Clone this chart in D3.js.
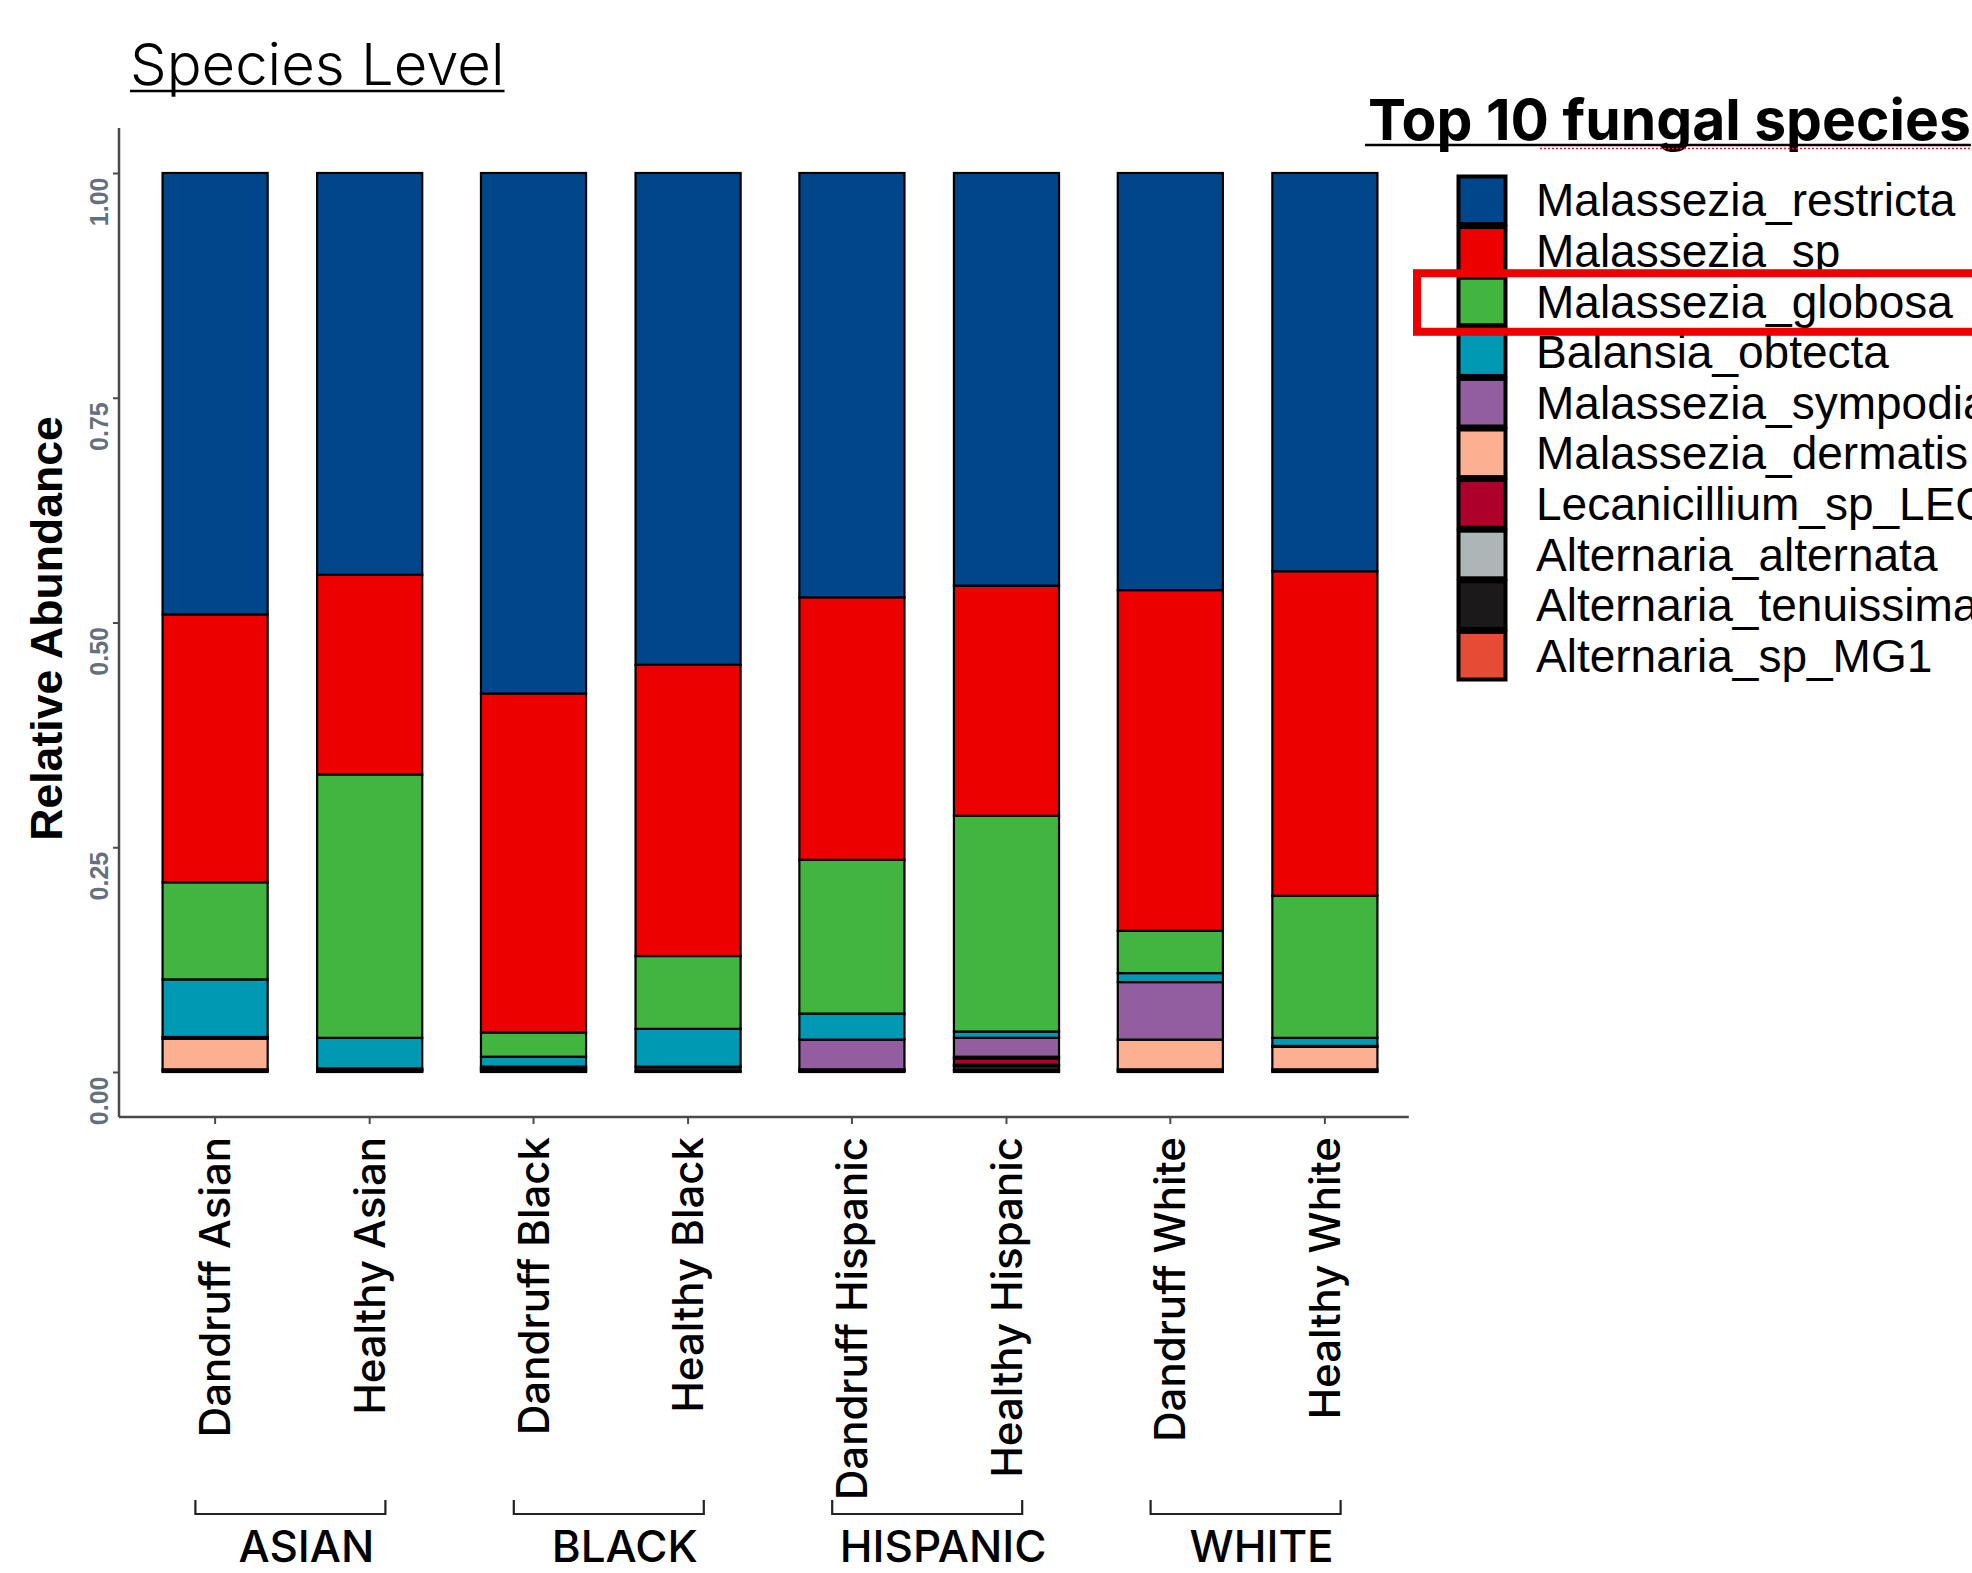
<!DOCTYPE html>
<html>
<head>
<meta charset="utf-8">
<script src="https://cdn.jsdelivr.net/npm/d3@7"></script>
<style>
  html, body { margin: 0; padding: 0; background: #ffffff; }
  svg { display: block; }
</style>
</head>
<body>
<svg id="chart" width="1972" height="1573"></svg>
<script>
// ---------------- data ----------------
const groups = ["ASIAN", "BLACK", "HISPANIC", "WHITE"];
const conditions = ["Dandruff", "Healthy"];
const samples = ["Dandruff Asian", "Healthy Asian", "Dandruff Black", "Healthy Black",
                 "Dandruff Hispanic", "Healthy Hispanic", "Dandruff White", "Healthy White"];

// legend order (top of the stack first)
const species = ["Malassezia_restricta", "Malassezia_sp", "Malassezia_globosa", "Balansia_obtecta",
                 "Malassezia_sympodialis", "Malassezia_dermatis", "Lecanicillium_sp_LEC01",
                 "Alternaria_alternata", "Alternaria_tenuissima", "Alternaria_sp_MG1"];
const speciesColors = ["#00468B", "#ED0000", "#42B540", "#0099B4", "#925E9F", "#FDAF91",
                       "#AD002A", "#ADB6B6", "#1B1919", "#E64B35"];

// relative abundance per sample (same order as samples)
const malasseziaRestricta   = [0.491, 0.447, 0.579, 0.547, 0.472, 0.459, 0.464, 0.443];
const malasseziaSp          = [0.298, 0.222, 0.377, 0.324, 0.292, 0.256, 0.379, 0.361];
const malasseziaGlobosa     = [0.108, 0.293, 0.027, 0.081, 0.171, 0.240, 0.047, 0.158];
const balansiaObtecta       = [0.064, 0.034, 0.011, 0.042, 0.029, 0.007, 0.010, 0.009];
const malasseziaSympodialis = [0.002, 0.001, 0.002, 0.000, 0.033, 0.021, 0.064, 0.001];
const malasseziaDermatis    = [0.034, 0.001, 0.001, 0.000, 0.001, 0.002, 0.033, 0.025];
const lecanicilliumSp       = [0.000, 0.000, 0.000, 0.000, 0.000, 0.007, 0.000, 0.000];
const alternariaAlternata   = [0.000, 0.000, 0.000, 0.000, 0.000, 0.001, 0.000, 0.000];
const alternariaTenuissima  = [0.002, 0.001, 0.002, 0.005, 0.001, 0.005, 0.002, 0.002];
const alternariaSpMG1       = [0.001, 0.001, 0.001, 0.001, 0.001, 0.002, 0.001, 0.001];

const seriesValues = [malasseziaRestricta, malasseziaSp, malasseziaGlobosa, balansiaObtecta,
                      malasseziaSympodialis, malasseziaDermatis, lecanicilliumSp,
                      alternariaAlternata, alternariaTenuissima, alternariaSpMG1];

const yTicks = [0, 0.25, 0.5, 0.75, 1];

const titleText = "Species Level";
const yTitle = "Relative Abundance";
const legendTitle = "Top 10 fungal species";
const highlighted = "Malassezia_globosa";

// ---------------- build table ----------------
const table = samples.map((s, i) => {
  const row = { sample: s, group: groups[Math.floor(i / 2)], condition: conditions[i % 2] };
  species.forEach((sp, k) => { row[sp] = seriesValues[k][i]; });
  return row;
});

// ---------------- layout ----------------
const svg = d3.select("#chart");
const color = d3.scaleOrdinal().domain(species).range(speciesColors);

const y = d3.scaleLinear().domain([0, 1]).range([1072, 173]);
const yAxisX = 119;

const xGroup = d3.scaleBand().domain(groups).range([133.2, 1406.8]).paddingInner(0).paddingOuter(0);
const xInner = d3.scaleBand().domain(conditions).range([0, xGroup.bandwidth()])
  .paddingInner(0.32).paddingOuter(0.19);
const barX = d => xGroup(d.group) + xInner(d.condition);
const barCenter = d => barX(d) + xInner.bandwidth() / 2;

// stack: bottom first
const stackKeys = species.slice().reverse();
const stacked = d3.stack().keys(stackKeys)(table);

const plot = svg.append("g");

plot.selectAll("g.layer")
  .data(stacked)
  .join("g")
  .attr("class", "layer")
  .attr("fill", d => color(d.key))
  .selectAll("rect")
  .data(d => d)
  .join("rect")
  .attr("x", d => barX(d.data))
  .attr("width", xInner.bandwidth())
  .attr("y", d => y(d[1]))
  .attr("height", d => Math.max(0, y(d[0]) - y(d[1])))
  .attr("stroke", "#000")
  .attr("stroke-width", 2.2);

// ---------------- axes ----------------
const axisColor = "#4a4a4a";
// y axis line (with 5% expansion like ggplot)
svg.append("line")
  .attr("x1", yAxisX).attr("x2", yAxisX)
  .attr("y1", y(1.05)).attr("y2", y(-0.05))
  .attr("stroke", axisColor).attr("stroke-width", 2.5);
// x axis line
svg.append("line")
  .attr("x1", yAxisX).attr("x2", xGroup.range()[1] + 2)
  .attr("y1", y(-0.05)).attr("y2", y(-0.05))
  .attr("stroke", axisColor).attr("stroke-width", 2.5);

const yAxis = d3.axisLeft(y).tickValues(yTicks).tickFormat(d3.format(".2f")).tickSize(6);
const yAxisG = svg.append("g").attr("transform", `translate(${yAxisX},0)`).call(yAxis);
yAxisG.select(".domain").remove();
yAxisG.selectAll(".tick line").attr("stroke", axisColor).attr("stroke-width", 2);
yAxisG.selectAll(".tick text")
  .attr("transform", "rotate(-90)")
  .attr("x", -4).attr("y", -11).attr("dy", 0)
  .attr("text-anchor", "end")
  .attr("fill", "#65707f")
  .style("font-family", "'Liberation Sans', Arial, sans-serif")
  .style("font-weight", "bold")
  .style("font-size", "25px");

// x ticks
svg.append("g").selectAll("line")
  .data(table)
  .join("line")
  .attr("x1", d => barCenter(d)).attr("x2", d => barCenter(d))
  .attr("y1", y(-0.05)).attr("y2", y(-0.05) + 7)
  .attr("stroke", axisColor).attr("stroke-width", 2);

// x labels
svg.append("g").selectAll("text")
  .data(table)
  .join("text")
  .attr("transform", d => `translate(${barCenter(d)},${y(-0.05) + 20}) rotate(-90)`)
  .attr("text-anchor", "end")
  .attr("dy", "0.36em")
  .style("font-family", "Inter, 'Open Sans', sans-serif")
  .style("font-weight", 500)
  .style("font-size", "42px")
  .attr("fill", "#000")
  .text(d => d.sample);

// group brackets and labels
const groupCenter = g => xGroup(g) + xGroup.bandwidth() / 2;
const brackets = svg.append("g");
brackets.selectAll("path")
  .data(groups)
  .join("path")
  .attr("d", g => {
    const c = groupCenter(g) - 2;
    return `M${c - 95},1500 V1514 H${c + 95} V1500`;
  })
  .attr("fill", "none").attr("stroke", "#222").attr("stroke-width", 2.2);
brackets.selectAll("text")
  .data(groups)
  .join("text")
  .attr("x", g => groupCenter(g) + 14)
  .attr("y", 1562)
  .attr("text-anchor", "middle")
  .style("font-family", "Inter, 'Open Sans', sans-serif")
  .style("font-weight", 500)
  .style("font-size", "44px")
  .attr("fill", "#000")
  .text(g => g);

// y title
svg.append("text")
  .attr("transform", `translate(62,${(y(1.05) + y(-0.05)) / 2 + 6}) rotate(-90)`)
  .attr("text-anchor", "middle")
  .style("font-family", "'Liberation Sans', Arial, sans-serif")
  .style("font-weight", "bold")
  .style("font-size", "44.6px")
  .attr("fill", "#000")
  .text(yTitle);

// title
const title = svg.append("text")
  .attr("x", 130).attr("y", 85)
  .style("font-family", "Inter, 'Open Sans', sans-serif")
  .style("font-weight", 300)
  .style("font-size", "58px")
  .attr("fill", "#000")
  .text(titleText);
const tw = title.node().getComputedTextLength();
svg.append("line")
  .attr("x1", 130).attr("x2", 130 + tw)
  .attr("y1", 91).attr("y2", 91)
  .attr("stroke", "#000").attr("stroke-width", 2.5);

// ---------------- legend ----------------
const legend = svg.append("g");
const lt = legend.append("text")
  .attr("x", 1368).attr("y", 140)
  .style("font-family", "Inter, 'Open Sans', sans-serif")
  .style("font-weight", 700)
  .style("font-size", "57px")
  .attr("fill", "#000")
  .text(legendTitle);
const ltw = lt.node().getComputedTextLength();
legend.append("line")
  .attr("x1", 1365).attr("x2", 1368 + ltw)
  .attr("y1", 145).attr("y2", 145)
  .attr("stroke", "#000").attr("stroke-width", 2.5);
// spell-check squiggle under "fungal species"
legend.append("line")
  .attr("x1", 1540).attr("x2", 1368 + ltw)
  .attr("y1", 148.5).attr("y2", 148.5)
  .attr("stroke", "#e02020").attr("stroke-width", 1.6)
  .attr("stroke-dasharray", "2,2");

const keyY = d3.scaleBand().domain(species).range([175, 681]);
legend.selectAll("rect.key")
  .data(species)
  .join("rect")
  .attr("class", "key")
  .attr("x", 1458.5).attr("width", 47)
  .attr("y", d => keyY(d) + 1.5).attr("height", keyY.bandwidth() - 3)
  .attr("fill", d => color(d))
  .attr("stroke", "#000").attr("stroke-width", 4);
legend.selectAll("text.lab")
  .data(species)
  .join("text")
  .attr("class", "lab")
  .attr("x", 1536)
  .attr("y", d => keyY(d) + keyY.bandwidth() / 2)
  .attr("dy", "0.35em")
  .style("font-family", "'Liberation Sans', Arial, sans-serif")
  .style("font-size", "46px")
  .attr("fill", "#000")
  .text(d => d);

// highlight box around the globosa entry
legend.append("rect")
  .attr("x", 1417).attr("y", keyY(highlighted) - 3)
  .attr("width", 700).attr("height", keyY.bandwidth() + 8)
  .attr("fill", "none")
  .attr("stroke", "#ee0000").attr("stroke-width", 8);
</script>
</body>
</html>
